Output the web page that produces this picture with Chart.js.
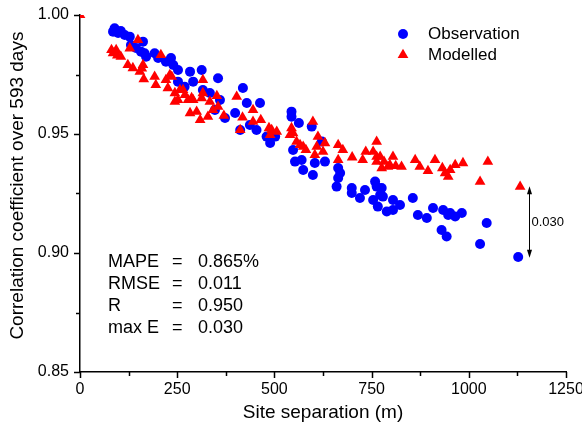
<!DOCTYPE html>
<html><head><meta charset="utf-8">
<script src="https://cdn.jsdelivr.net/npm/chart.js@4.4.1/dist/chart.umd.min.js"></script>
<style>html,body{margin:0;padding:0;background:#fff}#wrap{width:582px;height:432px;position:relative}</style>
</head><body><div id="wrap"><canvas id="c" width="582" height="432"></canvas></div>
<script>
// Observation (blue circles)
const obsX = [89,85,98,105,115,128,131,144,157,162,166,170,192,201,221,234,240,252,252,269,283,291,313,316,334,347,355,360,373,399,412,419,429,437,454,463,480,489,502,544,544,548,553,563,570,574,596,599,604,622,630,660,664,664,669,699,699,720,733,754,759,763,766,772,776,779,789,805,805,823,856,869,892,908,930,934,943,947,952,965,982,1029,1046,1127];
const obsY = [0.9944,0.9930,0.9924,0.9933,0.9916,0.9909,0.9874,0.9861,0.9846,0.9888,0.9839,0.9825,0.9839,0.9819,0.9804,0.9819,0.9790,0.9769,0.9720,0.9699,0.9762,0.9720,0.9769,0.9685,0.9672,0.9601,0.9734,0.9643,0.9567,0.9588,0.9517,0.9693,0.9630,0.9538,0.9517,0.9630,0.9489,0.9462,0.9489,0.9594,0.9573,0.9433,0.9384,0.9546,0.9391,0.9349,0.9531,0.9328,0.9378,0.9468,0.9384,0.9279,0.9357,0.9315,0.9336,0.9273,0.9252,0.9231,0.9265,0.9223,0.9300,0.9279,0.9195,0.9244,0.9273,0.9237,0.9174,0.9223,0.9181,0.9202,0.9231,0.9160,0.9147,0.9189,0.9097,0.9181,0.9069,0.9160,0.9168,0.9153,0.9168,0.9038,0.9126,0.8983];
// Modelled (red triangles)
const modX = [0,81,85,93,96,105,123,128,136,149,154,159,162,164,192,195,208,221,226,231,236,244,244,252,257,265,270,278,283,287,291,300,309,313,316,316,329,334,342,352,355,370,403,412,418,445,445,465,486,489,493,506,540,544,548,557,566,574,581,599,604,609,612,625,630,664,664,676,700,727,735,754,763,763,763,772,776,782,792,797,805,812,827,862,874,895,913,932,939,947,952,965,985,1029,1049,1132];
const modY = [1.000,0.9853,0.9840,0.9853,0.9830,0.9825,0.9790,0.9860,0.9777,0.9895,0.9762,0.9776,0.9790,0.9730,0.9741,0.9706,0.9832,0.9727,0.9693,0.9748,0.9741,0.9672,0.9636,0.9643,0.9685,0.9685,0.9664,0.9643,0.9588,0.9651,0.9643,0.9594,0.9559,0.9651,0.9727,0.9672,0.9573,0.9636,0.9601,0.9660,0.9615,0.9577,0.9657,0.9517,0.9570,0.9601,0.9552,0.9559,0.9525,0.9496,0.9517,0.9510,0.9496,0.9525,0.9504,0.9468,0.9454,0.9447,0.9433,0.9552,0.9412,0.9447,0.9489,0.9426,0.9462,0.9454,0.9391,0.9433,0.9402,0.9391,0.9426,0.9426,0.9468,0.9405,0.9384,0.9405,0.9357,0.9384,0.9363,0.9370,0.9405,0.9366,0.9363,0.9391,0.9363,0.9345,0.9391,0.9357,0.9336,0.9321,0.9349,0.9370,0.9378,0.9300,0.9384,0.9279];

const seriesNames = ['Observation', 'Modelled'];
const xTickValues = [0, 250, 500, 750, 1000, 1250];
const yTickValues = [0.85, 0.90, 0.95, 1.00];
const statNames = ['MAPE', 'RMSE', 'R', 'max E'];
const statValues = ['0.865%', '0.011', '0.950', '0.030'];
const maxErrX = [1155];
const maxErrY = [0.928, 0.898];
const maxErrLabel = '0.030';

const FONT = '"Liberation Sans", Arial, Helvetica, sans-serif';
const toPts = (xs, ys) => xs.map((x, i) => ({x: x, y: ys[i]}));

const extras = {
  id: 'extras',
  afterDraw(chart) {
    const ctx = chart.ctx;
    const xs = chart.scales.x, ys = chart.scales.y;
    const area = chart.chartArea;
    ctx.save();
    ctx.strokeStyle = '#000'; ctx.lineWidth = 1.5;
    // x ticks (major + minor)
    for (let v = 0; v <= 1250; v += 125) {
      const px = Math.round(xs.getPixelForValue(v)) + 0.5;
      const len = (v % 250 === 0) ? 6 : 4;
      ctx.beginPath(); ctx.moveTo(px, area.bottom); ctx.lineTo(px, area.bottom + len); ctx.stroke();
    }
    for (let k = 0; k <= 6; k++) {
      const v = 0.85 + k * 0.025;
      const py = Math.round(ys.getPixelForValue(v)) + 0.5;
      const len = (k % 2 === 0) ? 6 : 4;
      ctx.beginPath(); ctx.moveTo(area.left, py); ctx.lineTo(area.left - len, py); ctx.stroke();
    }
    // legend
    ctx.fillStyle = '#0000ff';
    ctx.beginPath(); ctx.arc(403, 34, 5, 0, Math.PI * 2); ctx.fill();
    ctx.fillStyle = '#ff0000';
    const r = 6.2, tx = 403, ty = 55;
    ctx.beginPath();
    ctx.moveTo(tx, ty - r);
    ctx.lineTo(tx + r * Math.sin(2 * Math.PI / 3), ty - r * Math.cos(2 * Math.PI / 3));
    ctx.lineTo(tx + r * Math.sin(4 * Math.PI / 3), ty - r * Math.cos(4 * Math.PI / 3));
    ctx.closePath(); ctx.fill();
    ctx.fillStyle = '#000';
    ctx.font = '17px ' + FONT;
    ctx.textBaseline = 'middle'; ctx.textAlign = 'left';
    ctx.fillText(seriesNames[0], 428, 34);
    ctx.fillText(seriesNames[1], 428, 55);
    // statistics
    ctx.font = '18px ' + FONT;
    const sy = [262, 284, 306, 328];
    for (let i = 0; i < statNames.length; i++) {
      ctx.fillText(statNames[i], 108, sy[i]);
      ctx.fillText('=', 172, sy[i]);
      ctx.fillText(statValues[i], 198, sy[i]);
    }
    // max error arrow
    const ax = Math.round(xs.getPixelForValue(maxErrX[0])) + 0.5;
    const ay1 = ys.getPixelForValue(maxErrY[0]);
    const ay2 = ys.getPixelForValue(maxErrY[1]);
    ctx.lineWidth = 1;
    ctx.beginPath(); ctx.moveTo(ax, ay1 + 6); ctx.lineTo(ax, ay2 - 6); ctx.stroke();
    ctx.beginPath(); ctx.moveTo(ax, ay1); ctx.lineTo(ax - 2.5, ay1 + 8); ctx.lineTo(ax + 2.5, ay1 + 8); ctx.closePath(); ctx.fill();
    ctx.beginPath(); ctx.moveTo(ax, ay2); ctx.lineTo(ax - 2.5, ay2 - 8); ctx.lineTo(ax + 2.5, ay2 - 8); ctx.closePath(); ctx.fill();
    ctx.font = '13px ' + FONT;
    ctx.fillText(maxErrLabel, ax + 2, (ay1 + ay2) / 2);
    ctx.restore();
  }
};

new Chart(document.getElementById('c'), {
  type: 'scatter',
  data: {
    datasets: [
      { label: seriesNames[0], data: toPts(obsX, obsY), order: 2,
        pointStyle: 'circle', pointRadius: 5, pointHoverRadius: 5,
        backgroundColor: '#0000ff', borderColor: '#0000ff', borderWidth: 0 },
      { label: seriesNames[1], data: toPts(modX, modY), order: 1,
        pointStyle: 'triangle', pointRadius: 6.2, pointHoverRadius: 6.2,
        backgroundColor: '#ff0000', borderColor: '#ff0000', borderWidth: 0 }
    ]
  },
  options: {
    responsive: false, animation: false, devicePixelRatio: 1,
    layout: { padding: { top: 15, right: 16, left: 0, bottom: 0 } },
    plugins: { legend: { display: false }, tooltip: { enabled: false } },
    scales: {
      x: {
        type: 'linear', min: 0, max: 1250,
        afterBuildTicks: s => { s.ticks = xTickValues.map(v => ({value: v})); },
        afterFit: s => { s.height = 60; s.paddingLeft = 0; s.paddingRight = 0; },
        grid: { display: false, drawTicks: false },
        border: { display: true, color: '#000', width: 1.5 },
        ticks: { color: '#000', font: { family: FONT, size: 16 }, padding: 8, maxRotation: 0, autoSkip: false,
                 callback: v => String(v) },
        title: { display: true, text: 'Site separation (m)', color: '#000', font: { family: FONT, size: 19 }, padding: { top: 0, bottom: 8 } }
      },
      y: {
        type: 'linear', min: 0.85, max: 1.0,
        afterBuildTicks: s => { s.ticks = yTickValues.map(v => ({value: v})); },
        afterFit: s => { s.width = 80; s.paddingTop = 0; s.paddingBottom = 0; },
        grid: { display: false, drawTicks: false },
        border: { display: true, color: '#000', width: 1.5 },
        ticks: { color: '#000', font: { family: FONT, size: 16 }, padding: 11, callback: v => Number(v).toFixed(2) },
        title: { display: true, text: '   Correlation coefficient over 593 days', color: '#000', font: { family: FONT, size: 19 }, padding: { top: 6, bottom: 0 } }
      }
    }
  },
  plugins: [extras]
});
</script></body></html>
